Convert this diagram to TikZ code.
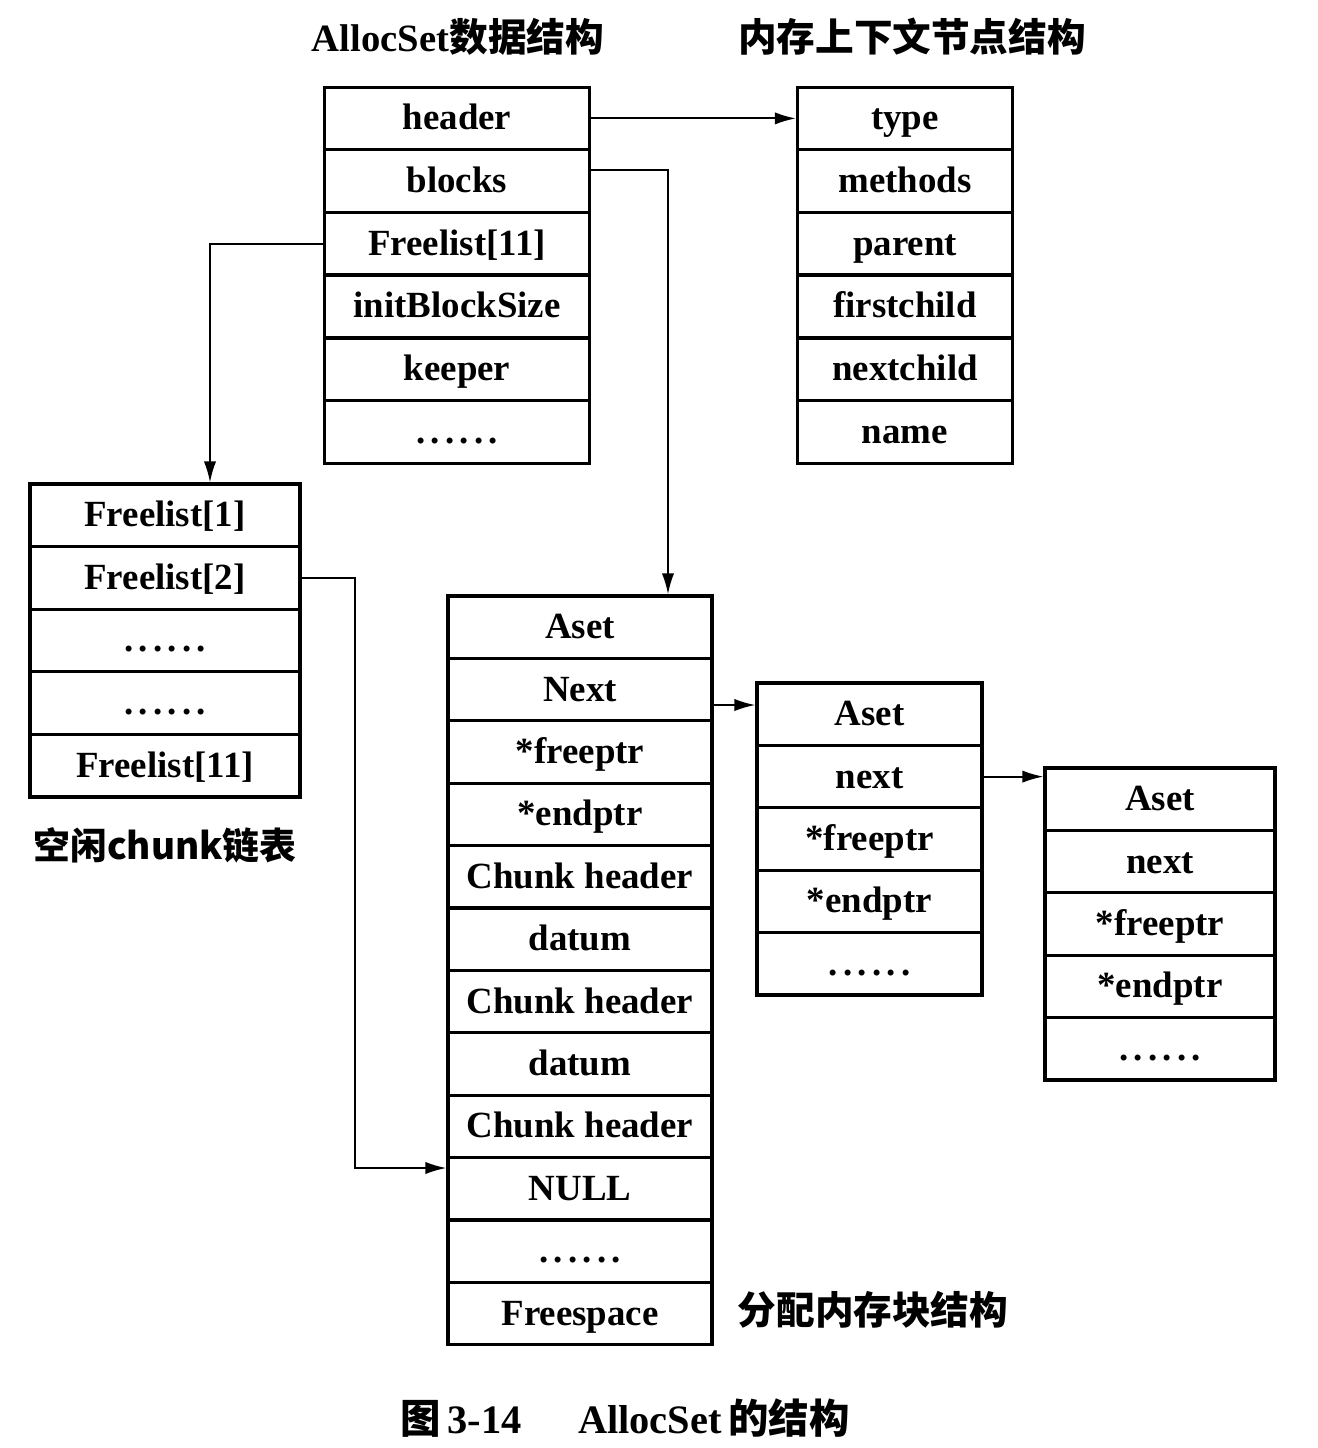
\documentclass[tikz,border=0pt]{standalone}
\usepackage{fontspec}
\setmainfont{Liberation Serif}
\newfontfamily\cjk{Noto Sans CJK SC}
\usetikzlibrary{arrows.meta}
\newcommand\sixdots{.\kern3pt.\kern3pt.\kern3pt.\kern3pt.\kern3pt.}

\begin{document}
\begin{tikzpicture}
  [x=0.02cm,y=-0.02cm,
   cell/.style={draw,line width=1.8pt,inner sep=0pt,minimum height=1.25cm,
     text height=16pt,text depth=3pt,
     font=\fontsize{21}{22}\selectfont\bfseries},
   link/.style={line width=1.1pt,-{Latex[length=12pt,width=7pt]}},
   title/.style={font=\fontsize{22}{23}\selectfont\bfseries}]
  \useasboundingbox (0,0) rectangle (1318,1448);
  % AllocSet
  \foreach \t [count=\i] in {header,blocks,Freelist[11],initBlockSize,keeper,\sixdots}
    \node[cell,minimum width=5.3cm] (as\i) at (457,55.7+62.7*\i) {\t};
  % memory context node
  \foreach \t [count=\i] in {type,methods,parent,firstchild,nextchild,name}
    \node[cell,minimum width=4.3cm] (mc\i) at (905,55.7+62.7*\i) {\t};
  % free chunk lists
  \foreach \t [count=\i] in {Freelist[1],Freelist[2],\sixdots,\sixdots,Freelist[11]}
    \node[cell,minimum width=5.4cm] (fl\i) at (165,452.7+62.6*\i) {\t};
  % memory blocks
  \foreach \t [count=\i] in {Aset,Next,*freeptr,*endptr,Chunk header,datum,Chunk header,datum,Chunk header,NULL,\sixdots,Freespace}
    \node[cell,minimum width=5.28cm] (mb\i) at (580,564.8+62.4*\i) {\t};
  \foreach \t [count=\i] in {Aset,next,*freeptr,*endptr,\sixdots}
    \node[cell,minimum width=4.5cm] (nb\i) at (869.5,651.8+62.4*\i) {\t};
  \foreach \t [count=\i] in {Aset,next,*freeptr,*endptr,\sixdots}
    \node[cell,minimum width=4.6cm] (tb\i) at (1160,736.8+62.4*\i) {\t};
  % titles
  \node[title] (tas) at (458,37) {AllocSet{\cjk 数据结构}};
  \node[title] (tmc) at (912,37) {\cjk 内存上下文节点结构};
  \node[title,font=\fontsize{21}{22}\selectfont\bfseries] (tfl) at (165,845) {\cjk 空闲chunk链表};
  \node[title] (tmb) at (873,1310) {\cjk 分配内存块结构};
  \node[font=\fontsize{23}{24}\selectfont\bfseries] (cap) at (625,1418)
    {{\cjk 图}\,3-14\hspace{1.4em}AllocSet\,{\cjk 的结构}};
  % links
  \coordinate (bk) at (668,170);
  \coordinate (fk) at (210,245);
  \coordinate (fn) at (355,1168);
  \coordinate (nx) at (735,705);
  \draw[link] (as1.east) -- (as1.east -| mc1.west);
  \draw[link] (as2.east |- bk) -- (bk) -- (bk |- mb1.north);
  \draw[link] (as3.west) -- (as3.west -| fk) -- (fk |- fl1.north);
  \draw[link] (fl2.east) -- (fl2.east -| fn) -- (fn) -- (fn -| mb10.west);
  \draw[link] (nx -| mb2.east) -- (nx -| nb1.west);
  \draw[link] (nb2.east) -- (nb2.east -| tb1.west);
\end{tikzpicture}
\end{document}
